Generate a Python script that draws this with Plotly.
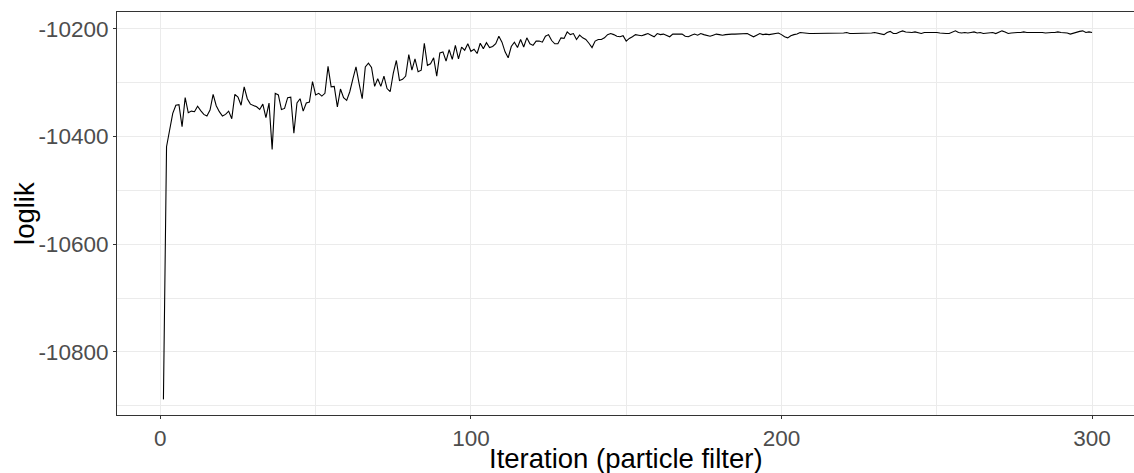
import plotly.graph_objects as go

# log-likelihood per particle-filter iteration
loglik = [
    -10888, -10419, -10388, -10357, -10342, -10341, -10382, -10328, -10356, -10353,
    -10354, -10344, -10352, -10359, -10362, -10351, -10322, -10343, -10354, -10362,
    -10359, -10353, -10367, -10322, -10327, -10342, -10308, -10330, -10340, -10343,
    -10345, -10350, -10340, -10365, -10338, -10424, -10320, -10323, -10350, -10348,
    -10328, -10327, -10394, -10338, -10330, -10353, -10338, -10336, -10298, -10323,
    -10320, -10325, -10320, -10270, -10308, -10307, -10345, -10312, -10328, -10333,
    -10317, -10293, -10271, -10302, -10330, -10271, -10264, -10272, -10307, -10293,
    -10307, -10288, -10311, -10317, -10283, -10259, -10296, -10294, -10288, -10248,
    -10277, -10256, -10280, -10277, -10227, -10268, -10265, -10254, -10288, -10245,
    -10243, -10260, -10239, -10257, -10231, -10256, -10234, -10240, -10228, -10242,
    -10238, -10246, -10227, -10237, -10226, -10235, -10233, -10228, -10214, -10225,
    -10243, -10254, -10233, -10225, -10235, -10220, -10234, -10217, -10228, -10231,
    -10223, -10223, -10225, -10214, -10211, -10222, -10228, -10228, -10217, -10218,
    -10206, -10211, -10209, -10220, -10212, -10217, -10220, -10227, -10235, -10223,
    -10220, -10220, -10217, -10211, -10209, -10211, -10214, -10215, -10213, -10223,
    -10218, -10215, -10211, -10212, -10213, -10211, -10209, -10212, -10215, -10209,
    -10211, -10210, -10212, -10215, -10210, -10210, -10209, -10210, -10214, -10215,
    -10212, -10210, -10212, -10209, -10211, -10213, -10214, -10212, -10210, -10211,
    -10212, -10211, -10210, -10210, -10210, -10210, -10210, -10210, -10209, -10212,
    -10215, -10212, -10209, -10211, -10210, -10211, -10210, -10208, -10208, -10211,
    -10215, -10217, -10213, -10211, -10210, -10207, -10208, -10209, -10209, -10209,
    -10209, -10209, -10209, -10209, -10209, -10209, -10208, -10208, -10209, -10208,
    -10207, -10209, -10209, -10209, -10209, -10209, -10209, -10208, -10208, -10207,
    -10208, -10210, -10211, -10207, -10205, -10209, -10209, -10206, -10204, -10206,
    -10207, -10207, -10206, -10207, -10209, -10207, -10207, -10207, -10206, -10207,
    -10208, -10209, -10209, -10209, -10206, -10204, -10207, -10208, -10207, -10208,
    -10207, -10206, -10208, -10207, -10209, -10208, -10208, -10207, -10209, -10207,
    -10204, -10206, -10209, -10208, -10207, -10207, -10207, -10206, -10207, -10207,
    -10206, -10206, -10207, -10207, -10208, -10207, -10207, -10207, -10206, -10207,
    -10207, -10208, -10210, -10208, -10206, -10205, -10204, -10207, -10206, -10207,
]
iterations = list(range(1, len(loglik) + 1))

x_ticks = [0, 100, 200, 300]
y_ticks = [-10800, -10600, -10400, -10200]
x_title = "Iteration (particle filter)"
y_title = "loglik"

fig = go.Figure()
fig.add_trace(go.Scatter(
    x=iterations, y=loglik, mode="lines",
    line=dict(color="black", width=1.1),
    showlegend=False, hoverinfo="x+y",
))

grid = "#EBEBEB"
axis_line = "#333333"
family = "Liberation Sans, Arial, sans-serif"
tick_font = dict(family=family, size=22.5, color="#4D4D4D")
title_font = dict(family=family, size=27.5, color="black")

fig.update_layout(
    width=1134, height=473, autosize=False,
    margin=dict(l=117, r=0, t=12, b=58, autoexpand=False),
    paper_bgcolor="white", plot_bgcolor="white",
    xaxis=dict(
        range=[-13.95, 313.5], automargin=False,
        tickvals=x_ticks, ticktext=[str(v) for v in x_ticks],
        showgrid=True, gridcolor=grid, gridwidth=1.2,
        minor=dict(dtick=50, tick0=0, showgrid=True, gridcolor=grid, gridwidth=0.6, ticks=""),
        zeroline=False,
        showline=True, linecolor=axis_line, linewidth=1.1, mirror=True,
        ticks="outside", ticklen=3, tickcolor=axis_line, tickwidth=1,
        tickfont=tick_font,
    ),
    yaxis=dict(
        range=[-10917, -10169], automargin=False,
        tickvals=y_ticks, ticktext=[str(v) for v in y_ticks],
        showgrid=True, gridcolor=grid, gridwidth=1.2,
        minor=dict(dtick=100, tick0=-10200, showgrid=True, gridcolor=grid, gridwidth=0.6, ticks=""),
        zeroline=False,
        showline=True, linecolor=axis_line, linewidth=1.1, mirror=False,
        ticks="outside", ticklen=3, tickcolor=axis_line, tickwidth=1,
        tickfont=tick_font,
    ),
    annotations=[
        dict(text=x_title, font=title_font, showarrow=False,
             xref="paper", yref="paper", x=0.5, y=-0.107,
             xanchor="center", yanchor="middle"),
        dict(text=y_title, font=title_font, showarrow=False, textangle=-90,
             xref="paper", yref="paper", x=-0.091, y=0.5,
             xanchor="center", yanchor="middle"),
    ],
)

# remove the page's default body margin so the figure fills the window exactly
fig.write_html(
    "out.html",
    config={"displayModeBar": False},
    post_script="document.body.style.margin='0';document.body.style.overflow='hidden';",
)
